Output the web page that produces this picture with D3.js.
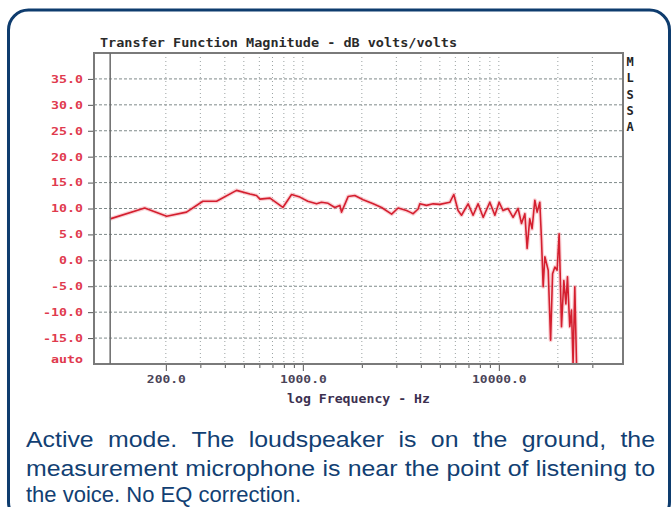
<!DOCTYPE html>
<meta charset="utf-8">
<head>
  <title>Transfer Function Magnitude</title>
  <style>
    body { margin: 0; background: #fff; }
    .mono { font-family: "DejaVu Sans Mono", "Liberation Mono", monospace; font-weight: bold; }
  </style>
</head>
<body>
<script src="https://d3js.org/d3.v7.min.js"></script>
<script>
var WIDTH = 672,
    HEIGHT = 507;

var freqs = [104, 156, 202, 255, 309, 363, 459, 537, 580, 604, 680, 791, 876, 966,
  1060, 1175, 1245, 1346, 1456, 1545, 1575, 1702, 1841, 2031, 2286, 2522, 2838, 3064,
  3381, 3520, 3655, 3875, 3952, 4275, 4624, 5000, 5623, 5891, 6195, 6450, 6970, 7390,
  7835, 8317, 8995, 9545, 10035, 10510, 11140, 11820, 12540, 13050, 13580, 13940, 14380,
  14780, 15260, 15680, 16180, 16510, 16830, 17170, 17860, 18370, 18800, 19320, 19830,
  20310, 20640, 20880, 21460, 21980, 22400, 23010, 23480, 23920, 24410, 24910];
var dbValues = [8.0, 10.1, 8.5, 9.3, 11.4, 11.4, 13.5, 12.8, 12.5, 11.8, 12.0, 10.2, 12.7, 12.2,
  11.4, 10.9, 11.2, 11.0, 10.2, 10.6, 9.3, 12.3, 12.5, 11.7, 10.9, 10.2, 8.9, 10.1,
  9.6, 9.3, 9.0, 9.9, 10.9, 10.6, 10.9, 10.8, 11.2, 12.7, 9.6, 8.7, 10.9, 8.7,
  10.9, 8.3, 11.2, 8.7, 11.2, 9.6, 10.0, 8.3, 10.0, 7.1, 9.0, 2.3, 8.0,
  6.1, 11.6, 9.3, 11.2, 3.9, -5.1, 0.7, -1.9, -15.4, -2.6, -1.3, -1.9,
  5.1, -5.1, -12.8, -3.9, -8.4, -3.2, -12.8, -9.6, -20, -5.1, -20];

var gridFreqs = [200, 300, 400, 500, 600, 700, 800, 900, 1000,
  2000, 3000, 4000, 5000, 6000, 7000, 8000, 9000, 10000, 20000, 30000];
var labelFreqs = [200, 1000, 10000];
var labelTexts = ["200.0", "1000.0", "10000.0"];

var dbTicks = [35, 30, 25, 20, 15, 10, 5, 0, -5, -10, -15, -20];
var dbTickLabels = ["35.0", "30.0", "25.0", "20.0", "15.0", "10.0", "5.0", "0.0",
  "-5.0", "-10.0", "-15.0", "auto"];

var sideLetters = ["M", "L", "S", "S", "A"];
var titleText = "Transfer Function Magnitude - dB volts/volts";
var axisTitle = "log Frequency - Hz";
var captionLines = [
  "Active mode. The loudspeaker is on the ground, the",
  "measurement microphone is near the point of listening to",
  "the voice. No EQ correction."
];

var svg = d3.select("body").append("svg")
    .attr("width", WIDTH)
    .attr("height", HEIGHT);

// rounded frame around picture + caption
svg.append("rect")
    .attr("x", 8.5).attr("y", 10)
    .attr("width", 661).attr("height", 512)
    .attr("rx", 20)
    .attr("fill", "none")
    .attr("stroke", "#0e3c6e")
    .attr("stroke-width", 3);

var plotL = 94, plotR = 623, plotT = 53, plotB = 364;

var x = d3.scaleLog().domain([86, 43000]).range([plotL, plotR]);
var y = d3.scaleLinear().domain([-20, 40]).range([plotB, plotT]);

// grid
svg.append("g").selectAll("line")
    .data(dbTicks.filter(function(d) { return d > -20; }))
  .enter().append("line")
    .attr("x1", plotL).attr("x2", plotR)
    .attr("y1", function(d) { return y(d); })
    .attr("y2", function(d) { return y(d); })
    .attr("stroke", "#7f8a8a")
    .attr("stroke-width", 1)
    .attr("stroke-dasharray", "3,2");

svg.append("g").selectAll("line")
    .data(gridFreqs)
  .enter().append("line")
    .attr("x1", function(d) { return x(d); })
    .attr("x2", function(d) { return x(d); })
    .attr("y1", plotT).attr("y2", plotB)
    .attr("stroke", "#9aa2a2")
    .attr("stroke-width", 1)
    .attr("stroke-dasharray", "1,3");

// x axis
var xAxis = d3.axisBottom(x)
    .tickValues(gridFreqs)
    .tickSize(4)
    .tickFormat(function(d) {
      var i = labelFreqs.indexOf(d);
      return i < 0 ? "" : labelTexts[i];
    });

var gx = svg.append("g")
    .attr("transform", "translate(0," + plotB + ")")
    .call(xAxis);
gx.select(".domain").remove();
gx.selectAll(".tick line").attr("stroke", "#555");
gx.selectAll(".tick")
    .filter(function(d) { return labelFreqs.indexOf(d) >= 0; })
    .select("line").attr("y2", 7);
gx.selectAll(".tick text")
    .attr("class", "mono")
    .attr("y", 19).attr("dy", 0)
    .attr("fill", "#4a4458")
    .style("font-size", "10px")
    .each(function() {
      var t = d3.select(this);
      if (t.text()) t.attr("textLength", t.text().length * 7.8).attr("lengthAdjust", "spacingAndGlyphs");
    });

// y axis
var yAxis = d3.axisLeft(y)
    .tickValues(dbTicks)
    .tickSize(6)
    .tickPadding(5)
    .tickFormat(function(d, i) { return dbTickLabels[i]; });

var gy = svg.append("g")
    .attr("transform", "translate(" + plotL + ",0)")
    .call(yAxis);
gy.select(".domain").remove();
gy.selectAll(".tick line").attr("stroke", "#555");
gy.selectAll(".tick").filter(function(d) { return d === -20; }).select("line").remove();
gy.selectAll(".tick text")
    .attr("class", "mono")
    .attr("fill", "#e03a4e")
    .style("font-size", "10.5px")
    .each(function() {
      var t = d3.select(this);
      t.attr("textLength", t.text().length * 8).attr("lengthAdjust", "spacingAndGlyphs");
    });
gy.selectAll(".tick").filter(function(d) { return d === -20; }).select("text").attr("dy", "-0.1em");

// curve
var data = freqs.map(function(f, i) { return { f: f, v: dbValues[i] }; });
var line = d3.line()
    .x(function(d) { return x(d.f); })
    .y(function(d) { return y(d.v); });

svg.append("clipPath").attr("id", "plot-clip")
  .append("rect")
    .attr("x", plotL).attr("y", plotT)
    .attr("width", plotR - plotL).attr("height", plotB - plotT);

var plot = svg.append("g").attr("clip-path", "url(#plot-clip)");
plot.append("path")
    .datum(data)
    .attr("d", line)
    .attr("fill", "none")
    .attr("stroke", "#f5a3ab")
    .attr("stroke-width", 4)
    .attr("stroke-opacity", 0.5)
    .attr("stroke-linejoin", "round");
plot.append("path")
    .datum(data)
    .attr("d", line)
    .attr("fill", "none")
    .attr("stroke", "#d41f2f")
    .attr("stroke-width", 1.6)
    .attr("stroke-linejoin", "round");

// plot frame + start line
svg.append("rect")
    .attr("x", plotL).attr("y", plotT)
    .attr("width", plotR - plotL).attr("height", plotB - plotT)
    .attr("fill", "none")
    .attr("stroke", "#7a7a7a")
    .attr("stroke-width", 2);
svg.append("line")
    .attr("x1", x(freqs[0])).attr("x2", x(freqs[0]))
    .attr("y1", plotT).attr("y2", plotB)
    .attr("stroke", "#6a6a6a")
    .attr("stroke-width", 1.5);

// title, axis title, side letters
svg.append("text")
    .attr("class", "mono")
    .attr("x", 100).attr("y", 47)
    .attr("fill", "#2a2a2a")
    .style("font-size", "13px")
    .attr("textLength", 357).attr("lengthAdjust", "spacingAndGlyphs")
    .text(titleText);

svg.append("text")
    .attr("class", "mono")
    .attr("x", 287).attr("y", 403)
    .attr("fill", "#3c3050")
    .style("font-size", "11.5px")
    .attr("textLength", 143).attr("lengthAdjust", "spacingAndGlyphs")
    .text(axisTitle);

svg.append("g").selectAll("text")
    .data(sideLetters)
  .enter().append("text")
    .attr("class", "mono")
    .attr("x", 630).attr("y", function(d, i) { return 66 + i * 16.3; })
    .attr("text-anchor", "middle")
    .attr("fill", "#222")
    .style("font-size", "12px")
    .text(function(d) { return d; });

// caption, first two lines justified
var cap = svg.append("g")
    .attr("fill", "#123f73")
    .style("font-family", "'Liberation Sans', Arial, sans-serif")
    .style("font-size", "22px");

function justifyLine(words, x0, x1, baseline, stretch) {
  var nodes = words.map(function(w) {
    return cap.append("text").attr("y", baseline).text(w);
  });
  var widths = nodes.map(function(n) { return n.node().getComputedTextLength() * stretch; });
  var gap = (x1 - x0 - d3.sum(widths)) / (words.length - 1);
  var cx = x0;
  nodes.forEach(function(n, i) {
    n.attr("x", cx)
     .attr("textLength", widths[i])
     .attr("lengthAdjust", "spacingAndGlyphs");
    cx += widths[i] + gap;
  });
}

justifyLine(captionLines[0].split(" "), 26, 655, 447, 1.13);
justifyLine(captionLines[1].split(" "), 26, 655, 476, 1.13);
cap.append("text")
    .attr("x", 26).attr("y", 502)
    .text(captionLines[2]);
</script>
</body>
